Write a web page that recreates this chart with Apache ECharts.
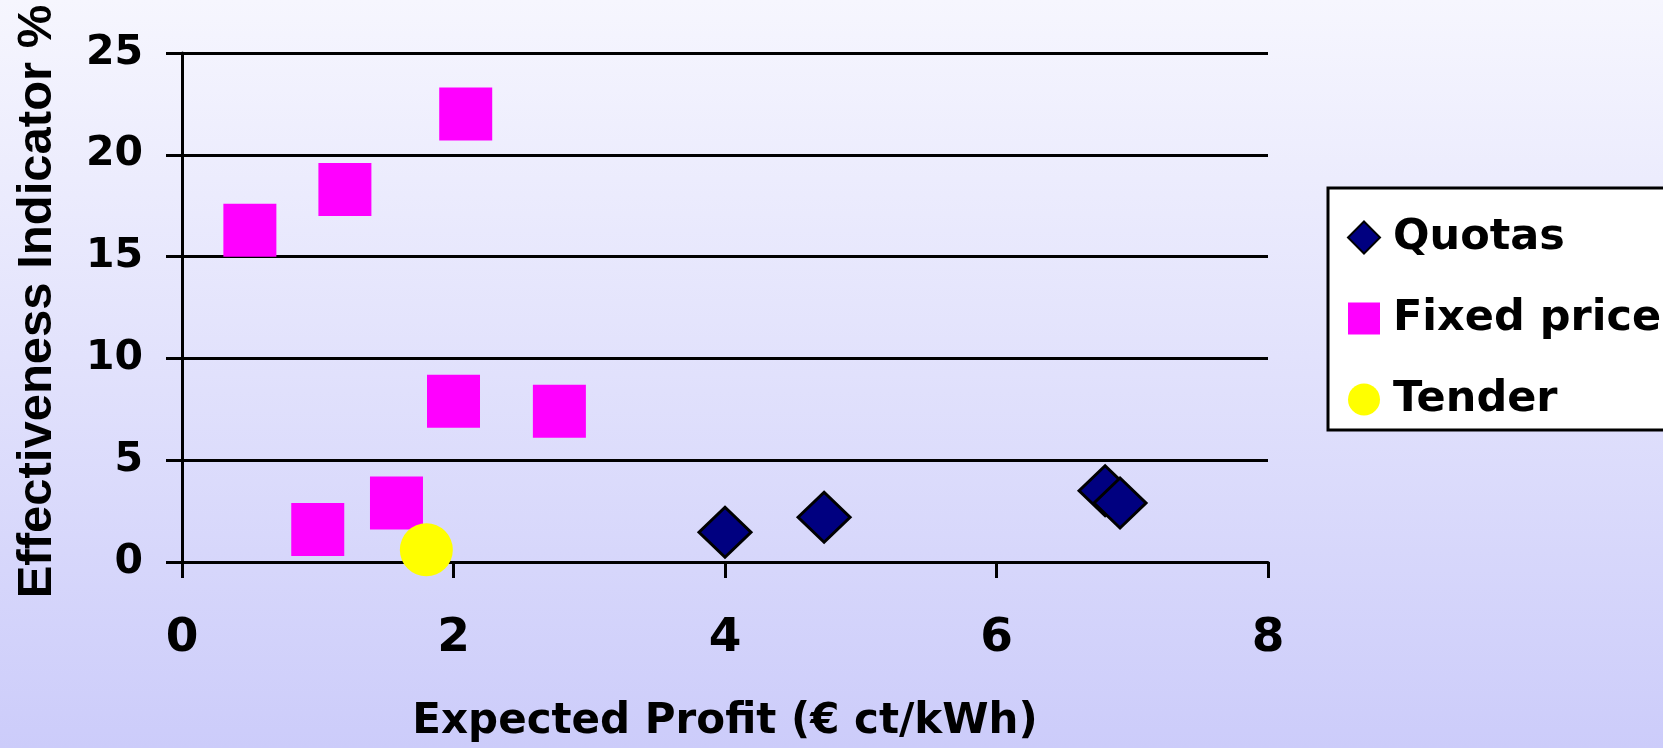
<!DOCTYPE html>
<html>
<head>
<meta charset="utf-8">
<script src="https://cdn.jsdelivr.net/npm/echarts@6/dist/echarts.min.js"></script>
<style>
  html, body { margin: 0; padding: 0; }
  #chart { width: 1663px; height: 748px; }
</style>
</head>
<body>
<div id="chart"></div>
<script>
// Expected profit (x) vs effectiveness indicator (y) by support scheme
const quotasX = [4.0, 4.73, 6.8, 6.91];
const quotasY = [1.46, 2.2, 3.5, 2.9];

const fixedX = [0.5, 1.2, 2.09, 2.0, 2.78, 1.58, 1.0];
const fixedY = [16.3, 18.3, 22.0, 7.9, 7.4, 2.9, 1.6];

const tenderX = [1.8];
const tenderY = [0.6];

const xTicks = [0, 2, 4, 6, 8];
const yTicks = [0, 5, 10, 15, 20, 25];

const seriesNames = ['Quotas', 'Fixed price', 'Tender'];
const xTitle = 'Expected Profit (€ ct/kWh)';
const yTitle = 'Effectiveness Indicator %';

const pairs = (xs, ys) => xs.map((x, i) => [x, ys[i]]);

const FONT = '"DejaVu Sans", sans-serif';
const FONT_NARROW = '"Liberation Sans", Arial, sans-serif';
const chart = echarts.init(document.getElementById('chart'));

chart.setOption({
  animation: false,
  backgroundColor: {
    type: 'linear', x: 0, y: 0, x2: 0, y2: 1,
    colorStops: [
      { offset: 0, color: '#f6f6fe' },
      { offset: 1, color: '#ccccfa' }
    ]
  },
  grid: { left: 182, right: 395, top: 53, bottom: 185, containLabel: false },
  legend: {
    orient: 'vertical',
    left: 1328,
    top: 188,
    data: seriesNames,
    backgroundColor: '#ffffff',
    borderColor: '#000000',
    borderWidth: 3,
    padding: [28, 20, 9, 19],
    itemGap: 38,
    itemWidth: 32,
    itemHeight: 32,
    textStyle: {
      fontFamily: FONT, fontWeight: 'bold', fontSize: 43, color: '#000',
      padding: [0, 0, 0, 8]
    }
  },
  xAxis: {
    type: 'value',
    min: xTicks[0],
    max: xTicks[xTicks.length - 1],
    interval: 2,
    name: xTitle,
    nameLocation: 'middle',
    nameGap: 139,
    nameTextStyle: { fontFamily: FONT, fontWeight: 'bold', fontSize: 42, color: '#000' },
    axisLine: { show: true, onZero: false, lineStyle: { color: '#000', width: 3 } },
    axisTick: { show: true, length: 16, lineStyle: { color: '#000', width: 3 } },
    axisLabel: { margin: 53, fontFamily: FONT, fontWeight: 'bold', fontSize: 47, color: '#000' },
    splitLine: { show: false }
  },
  yAxis: {
    type: 'value',
    min: yTicks[0],
    max: yTicks[yTicks.length - 1],
    interval: 5,
    name: yTitle,
    nameLocation: 'middle',
    nameGap: 120,
    nameRotate: 90,
    nameTextStyle: {
      fontFamily: FONT_NARROW, fontWeight: 'bold', fontSize: 49, color: '#000',
      padding: [0, 0, 0, 12]
    },
    axisLine: { show: true, lineStyle: { color: '#000', width: 3 } },
    axisTick: { show: true, length: 16, lineStyle: { color: '#000', width: 3 } },
    axisLabel: { margin: 39, fontFamily: FONT, fontWeight: 'bold', fontSize: 41, color: '#000' },
    splitLine: { show: true, lineStyle: { color: '#000', width: 3 } }
  },
  series: [
    {
      name: seriesNames[0],
      type: 'scatter',
      symbol: 'diamond',
      symbolSize: [52, 50],
      itemStyle: { color: '#000080', borderColor: '#000000', borderWidth: 3, opacity: 1 },
      data: pairs(quotasX, quotasY),
      z: 3
    },
    {
      name: seriesNames[1],
      type: 'scatter',
      symbol: 'rect',
      symbolSize: 53,
      itemStyle: { color: '#ff00ff', opacity: 1 },
      data: pairs(fixedX, fixedY),
      z: 3
    },
    {
      name: seriesNames[2],
      type: 'scatter',
      symbol: 'circle',
      symbolSize: 53,
      itemStyle: { color: '#ffff00', opacity: 1 },
      data: pairs(tenderX, tenderY),
      z: 4
    }
  ]
});
</script>
</body>
</html>
